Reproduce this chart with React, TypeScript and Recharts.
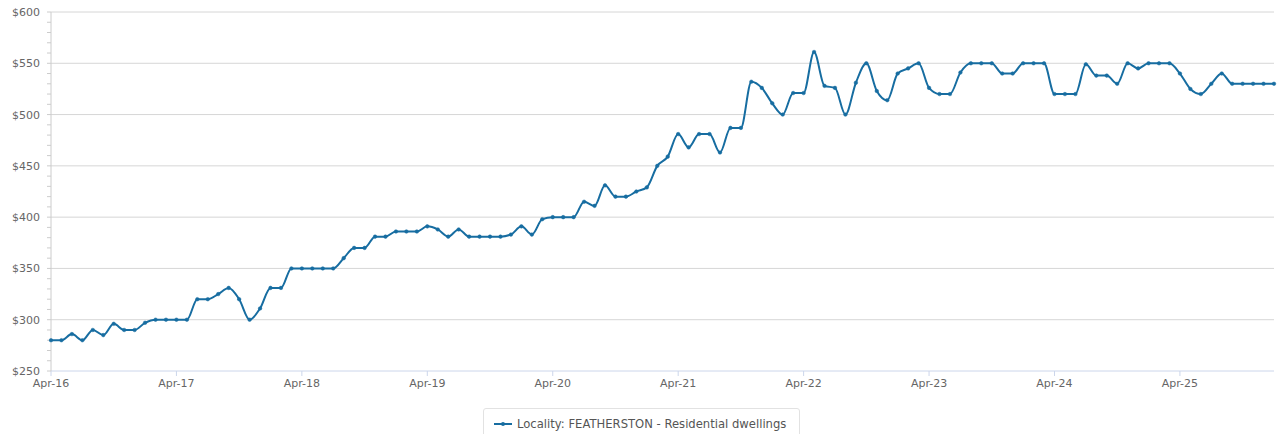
import { LineChart, Line, XAxis, YAxis, ReferenceLine, Legend } from "recharts";

const LINE_COLOR = "#176da1";
const FONT = "'DejaVu Sans', sans-serif";

// monthly, Apr-16 .. Jan-26
const START_YEAR = 2016;
const START_MONTH = 3; // April (0-based)
const MONTH_NAMES = ["Jan", "Feb", "Mar", "Apr", "May", "Jun", "Jul", "Aug", "Sep", "Oct", "Nov", "Dec"];

const rents = [
  280, 280, 286, 280, 290, 285, 296, 290, 290, 297, 300, 300,
  300, 300, 320, 320, 325, 331, 320, 300, 311, 331, 331, 350,
  350, 350, 350, 350, 360, 370, 370, 381, 381, 386, 386, 386,
  391, 388, 381, 388, 381, 381, 381, 381, 383, 391, 383, 398,
  400, 400, 400, 415, 411, 431, 420, 420, 425, 429, 450, 459,
  481, 468, 481, 481, 463, 487, 487, 532, 526, 511, 500, 521,
  521, 561, 528, 526, 500, 531, 550, 523, 514, 540, 545, 550,
  526, 520, 520, 541, 550, 550, 550, 540, 540, 550, 550, 550,
  520, 520, 520, 549, 538, 538, 530, 550, 545, 550, 550, 550,
  540, 525, 520, 530, 540, 530, 530, 530, 530, 530,
];

const xTicks = ["Apr-16", "Apr-17", "Apr-18", "Apr-19", "Apr-20", "Apr-21", "Apr-22", "Apr-23", "Apr-24", "Apr-25"];
const yMajor = [250, 300, 350, 400, 450, 500, 550, 600];
const yMinor = Array.from({ length: 36 }, (_, i) => 250 + i * 10);

const data = rents.map((value, i) => {
  const m = START_MONTH + i;
  const year = START_YEAR + Math.floor(m / 12);
  const label = `${MONTH_NAMES[m % 12]}-${String(year).slice(2)}`;
  return { month: label, value };
});

const SERIES_NAME = "Locality: FEATHERSTON - Residential dwellings";

function YTick(props: any) {
  const { x, y, payload } = props;
  if (!yMajor.includes(payload.value)) return null;
  return (
    <text x={x} y={y} dy={4} textAnchor="end" fill="#666" fontSize={11} fontFamily={FONT}>
      ${payload.value}
    </text>
  );
}

function LegendBox() {
  return (
    <div
      style={{
        width: 317,
        height: 32,
        boxSizing: "border-box",
        border: "1px solid #e2e2e2",
        borderRadius: 3,
        background: "#fff",
        display: "flex",
        alignItems: "center",
        paddingLeft: 10,
        fontFamily: FONT,
        fontSize: 11.6,
        color: "#555",
        whiteSpace: "nowrap",
      }}
    >
      <svg width={18} height={10} style={{ marginRight: 5 }}>
        <line x1={0} y1={5} x2={18} y2={5} stroke={LINE_COLOR} strokeWidth={2} />
        <circle cx={9} cy={5} r={2} fill={LINE_COLOR} />
      </svg>
      {SERIES_NAME}
    </div>
  );
}

export default function App() {
  return (
    <div style={{ position: "absolute", left: 0, top: 0 }}>
      <LineChart width={1280} height={434} data={data} margin={{ top: 12, right: 6, left: 0, bottom: 0 }}>
        {yMajor.slice(1).map((v) => (
          <ReferenceLine key={v} y={v} stroke="#d6d6d6" />
        ))}
        <XAxis
          dataKey="month"
          ticks={xTicks}
          interval={0}
          stroke="#ccd6eb"
          tickSize={5}
          tickMargin={3}
          height={31}
          tick={{ fill: "#666", fontSize: 11, fontFamily: FONT }}
        />
        <YAxis
          domain={[250, 600]}
          ticks={yMinor}
          interval={0}
          width={51}
          stroke="#ccc"
          tickSize={4}
          tickMargin={7}
          tick={<YTick />}
          allowDataOverflow
        />
        <Legend
          verticalAlign="bottom"
          content={() => <LegendBox />}
          wrapperStyle={{ top: 408, bottom: "auto", left: 483, width: 317, height: 32 }}
        />
        <Line
          type="monotone"
          dataKey="value"
          name={SERIES_NAME}
          stroke={LINE_COLOR}
          strokeWidth={2}
          dot={{ r: 1.8, fill: LINE_COLOR, stroke: LINE_COLOR, strokeWidth: 0.5 }}
          isAnimationActive={false}
        />
      </LineChart>
    </div>
  );
}
